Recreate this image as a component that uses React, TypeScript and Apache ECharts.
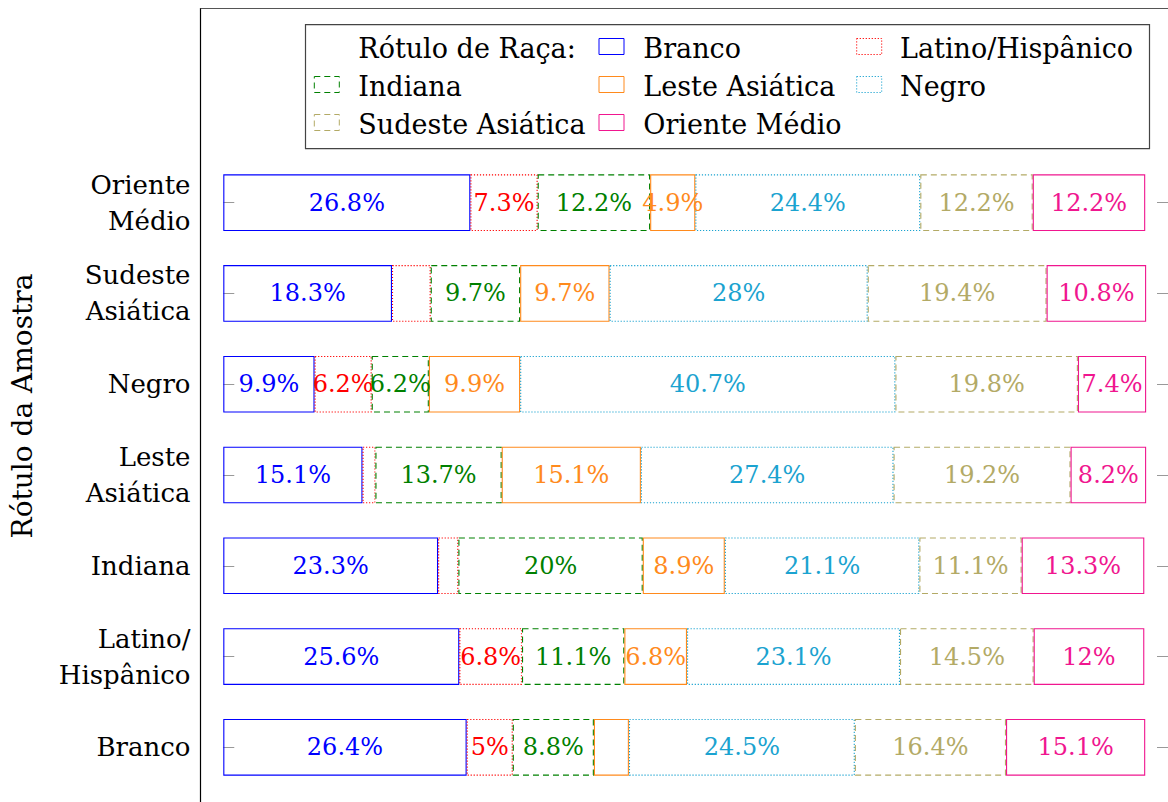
import React, { useEffect, useRef } from 'react';
import * as echarts from 'echarts';

// Categories bottom -> top
const categories = ['Branco', 'Latino/Hispânico', 'Indiana', 'Leste Asiática', 'Negro', 'Sudeste Asiática', 'Oriente Médio'];
const categoryLabels: Record<string, string> = {
  'Branco': 'Branco',
  'Latino/Hispânico': 'Latino/\nHispânico',
  'Indiana': 'Indiana',
  'Leste Asiática': 'Leste\nAsiática',
  'Negro': 'Negro',
  'Sudeste Asiática': 'Sudeste\nAsiática',
  'Oriente Médio': 'Oriente\nMédio',
};

const seriesNames = ['Branco', 'Latino/Hispânico', 'Indiana', 'Leste Asiática', 'Negro', 'Sudeste Asiática', 'Oriente Médio'];

// Percentages, one value per category (same order as categories)
const branco = [26.4, 25.6, 23.3, 15.1, 9.9, 18.3, 26.8];
const latino = [5, 6.8, 2.2, 1.4, 6.2, 4.2, 7.3];
const indiana = [8.8, 11.1, 20, 13.7, 6.2, 9.7, 12.2];
const lesteAsiatica = [3.8, 6.8, 8.9, 15.1, 9.9, 9.7, 4.9];
const negro = [24.5, 23.1, 21.1, 27.4, 40.7, 28, 24.4];
const sudesteAsiatica = [16.4, 14.5, 11.1, 19.2, 19.8, 19.4, 12.2];
const orienteMedio = [15.1, 12, 13.3, 8.2, 7.4, 10.8, 12.2];

const seriesValues = [branco, latino, indiana, lesteAsiatica, negro, sudesteAsiatica, orienteMedio];
const seriesColors = ['#0000ff', '#ff0000', '#008000', '#ff8a1c', '#1ba3d0', '#b3aa66', '#f0168f'];
const DASHED = [6, 4];
const DOTTED = [1.2, 1.8];
const seriesBorder: any[] = ['solid', DOTTED, DASHED, 'solid', DOTTED, DASHED, 'solid'];

const legendTitle = 'Rótulo de Raça:';
// legend entries in reading order (title first), laid out in 3 columns
const legendEntries = [legendTitle, ...seriesNames];
const axisTitle = 'Rótulo da Amostra';

const FONT = 'DejaVu Serif';
const LEGEND_SIZE = 27;
const CAT_SIZE = 26;
const TITLE_SIZE = 28;
const LABEL_SIZE = 24;

export default function App() {
  const ref = useRef<HTMLDivElement>(null);
  useEffect(() => {
    document.body.style.margin = '0';
    if (!ref.current) return;
    const chart = echarts.init(ref.current, null, { renderer: 'svg' });

    const colIconX = [314.3, 599, 856.7];
    const colTextX = [358.3, 643.3, 900];
    const rowY = [46.5, 84.5, 122.5];

    const legendGraphics: any[] = [];
    legendEntries.forEach((name, k) => {
      const col = k % 3;
      const row = Math.floor(k / 3);
      const i = seriesNames.indexOf(name);
      if (i >= 0) {
        const bt = seriesBorder[i];
        legendGraphics.push({
          type: 'rect',
          shape: { x: colIconX[col], y: rowY[row] - 8, width: 25, height: 16 },
          style: {
            fill: 'none',
            stroke: seriesColors[i],
            lineWidth: 1,
            lineDash: bt === 'solid' ? null : bt,
          },
          silent: true,
        });
      }
      legendGraphics.push({
        type: 'text',
        x: colTextX[col],
        y: rowY[row] + 1.5,
        style: {
          text: name,
          fontFamily: FONT,
          fontSize: LEGEND_SIZE,
          fill: '#000',
          align: 'left',
          verticalAlign: 'middle',
        },
        silent: true,
      });
    });

    const option: any = {
      animation: false,
      backgroundColor: '#fff',
      textStyle: { fontFamily: FONT },
      grid: { left: 200.5, top: 157.3, width: 969, height: 635.4, containLabel: false },
      xAxis: { type: 'value', min: -2.47, max: 102.47, show: false },
      yAxis: [
        {
          type: 'category',
          data: categories,
          axisLine: { show: false },
          axisTick: { show: true, inside: true, alignWithLabel: true, length: 11, lineStyle: { color: '#999' } },
          axisLabel: {
            formatter: (v: string) => categoryLabels[v] ?? v,
            fontFamily: FONT,
            fontSize: CAT_SIZE,
            color: '#000',
            lineHeight: 36,
            align: 'right',
            margin: 10,
          },
          splitLine: { show: false },
        },
        {
          type: 'category',
          data: categories,
          position: 'right',
          axisLine: { show: false },
          axisTick: { show: true, inside: true, alignWithLabel: true, length: 11, lineStyle: { color: '#999' } },
          axisLabel: { show: false },
          splitLine: { show: false },
        },
      ],
      series: seriesNames.map((name, i) => ({
        name,
        type: 'bar',
        stack: 'total',
        yAxisIndex: 0,
        barWidth: 56.7,
        data: seriesValues[i],
        itemStyle: {
          color: 'rgba(255,255,255,0)',
          borderColor: seriesColors[i],
          borderWidth: 1.1,
          borderType: seriesBorder[i],
        },
        label: {
          show: true,
          position: 'inside',
          color: seriesColors[i],
          fontFamily: FONT,
          fontSize: LABEL_SIZE,
          formatter: (p: any) => (p.value >= 4.5 ? `${p.value}%` : ''),
        },
      })),
      graphic: [
        {
          type: 'line',
          shape: { x1: 200.5, y1: 8, x2: 200.5, y2: 802 },
          style: { stroke: '#000', lineWidth: 1.2 },
          silent: true,
        },
        {
          type: 'line',
          shape: { x1: 200.5, y1: 8.5, x2: 1168, y2: 8.5 },
          style: { stroke: '#555', lineWidth: 1.2 },
          silent: true,
        },
        {
          type: 'rect',
          shape: { x: 305.5, y: 24.7, width: 844, height: 124 },
          style: { fill: 'none', stroke: '#444', lineWidth: 1.2 },
          silent: true,
        },
        ...legendGraphics,
        {
          type: 'text',
          x: 22,
          y: 406,
          rotation: Math.PI / 2,
          style: {
            text: axisTitle,
            fontFamily: FONT,
            fontSize: TITLE_SIZE,
            fill: '#000',
            align: 'center',
            verticalAlign: 'middle',
          },
          silent: true,
        },
      ],
    };
    chart.setOption(option);
    return () => chart.dispose();
  }, []);
  return <div ref={ref} style={{ width: 1168, height: 802 }} />;
}
